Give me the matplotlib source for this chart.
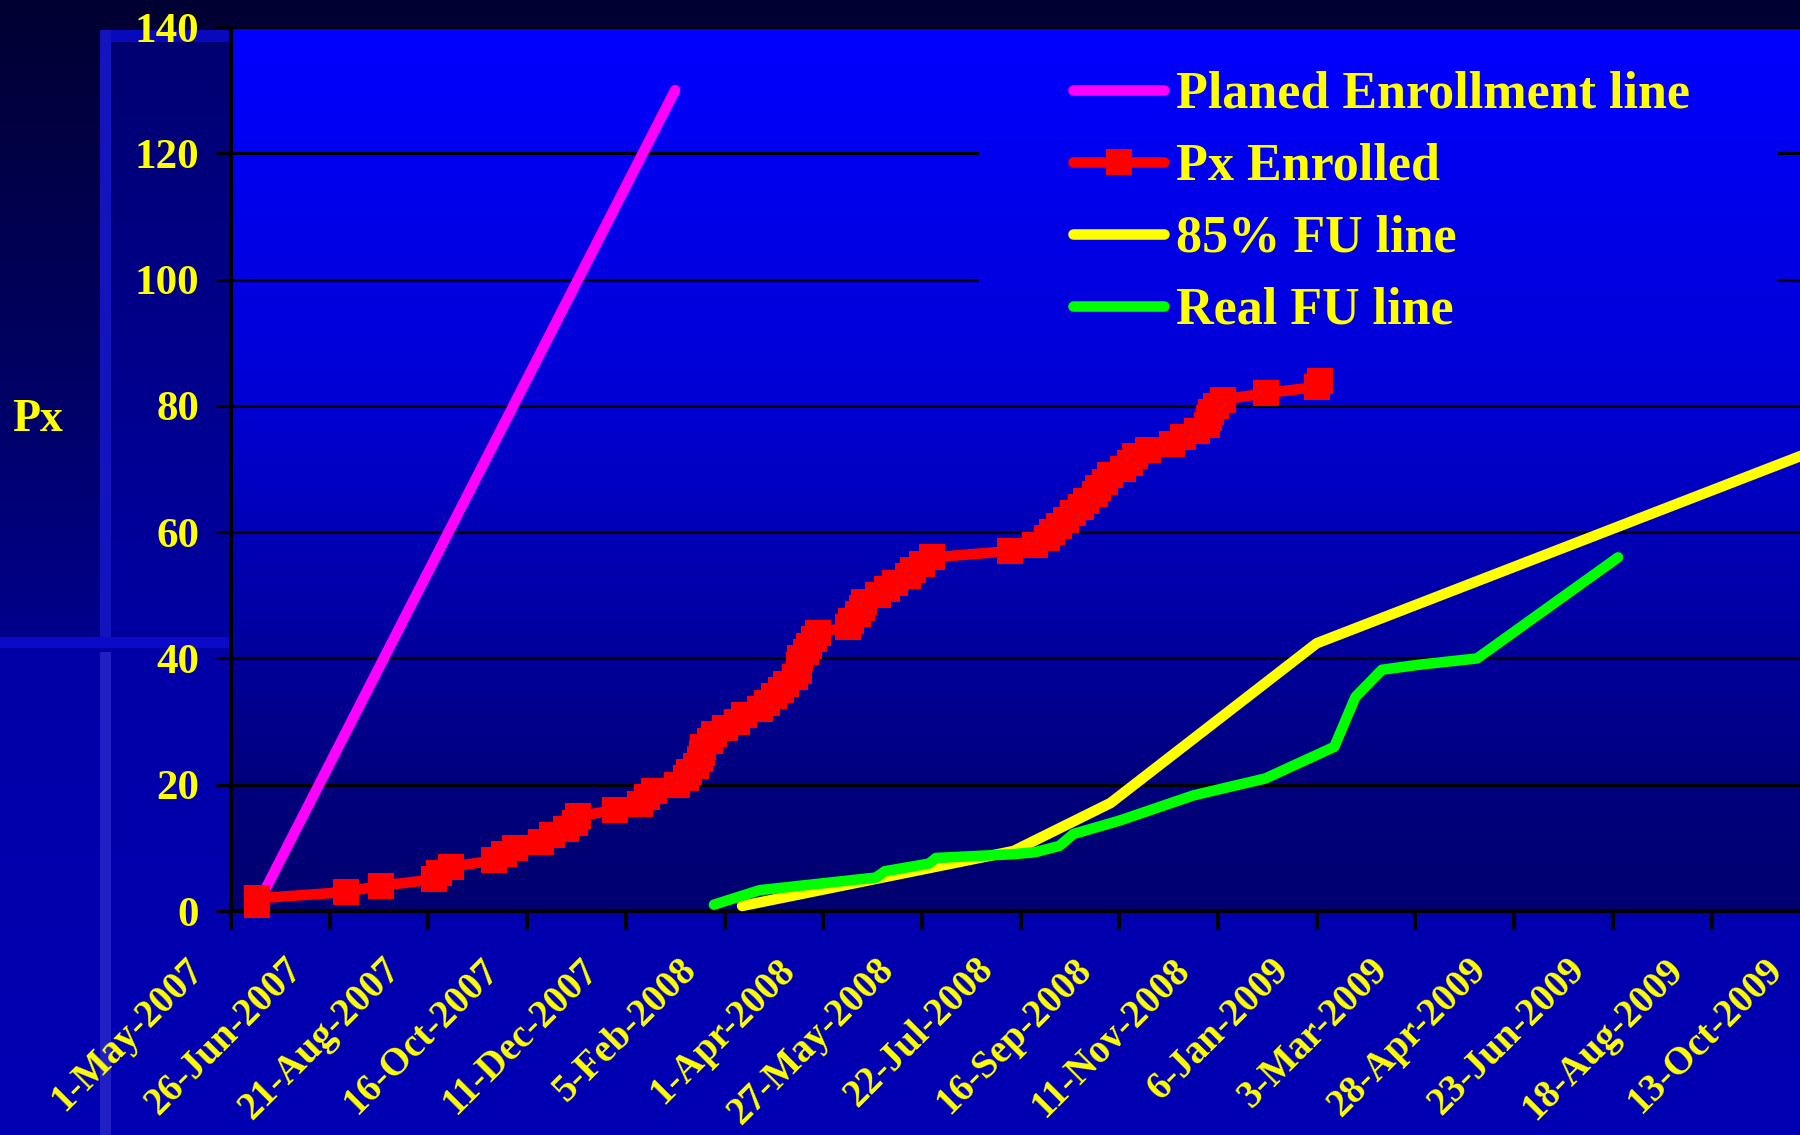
import numpy as np
import pandas as pd
import matplotlib
matplotlib.use("Agg")
import matplotlib.pyplot as plt
from matplotlib.colors import LinearSegmentedColormap
from matplotlib.patches import Rectangle
from matplotlib.transforms import ScaledTranslation

# ---------------- data ----------------
plan_dates = ["2007-05-16", "2008-01-08"]
plan_values = [1, 130]

enrolled_dates = [
    "2007-05-16", "2007-05-16", "2007-07-05", "2007-07-25", "2007-08-24",
    "2007-08-27", "2007-09-03", "2007-09-27", "2007-10-03", "2007-10-09",
    "2007-10-24", "2007-10-30", "2007-11-07", "2007-11-12", "2007-11-14",
    "2007-12-05", "2007-12-19", "2007-12-23", "2007-12-27", "2008-01-09",
    "2008-01-14", "2008-01-16", "2008-01-20", "2008-01-22", "2008-01-23",
    "2008-01-24", "2008-01-28", "2008-01-30", "2008-02-05", "2008-02-12",
    "2008-02-16", "2008-02-25", "2008-02-29", "2008-03-04", "2008-03-08",
    "2008-03-11", "2008-03-16", "2008-03-18", "2008-03-18", "2008-03-19",
    "2008-03-22", "2008-03-24", "2008-03-27", "2008-03-29", "2008-04-15",
    "2008-04-17", "2008-04-21", "2008-04-23", "2008-04-24", "2008-05-02",
    "2008-05-07", "2008-05-12", "2008-05-19", "2008-05-22", "2008-05-27",
    "2008-06-02", "2008-07-16", "2008-07-30", "2008-08-06", "2008-08-09",
    "2008-08-13", "2008-08-17", "2008-08-21", "2008-08-25", "2008-08-28",
    "2008-09-02", "2008-09-04", "2008-09-08", "2008-09-11", "2008-09-18",
    "2008-09-22", "2008-09-25", "2008-10-02", "2008-10-16", "2008-10-22",
    "2008-10-30", "2008-11-05", "2008-11-06", "2008-11-07", "2008-11-10",
    "2008-11-14", "2008-12-08", "2009-01-06", "2009-01-08",
]
enrolled_values = [
    1, 2, 3, 4, 5, 6, 7, 8, 9, 10,
    11, 12, 13, 14, 15, 16, 17, 18, 19, 20,
    21, 22, 23, 24, 25, 26, 27, 28, 29, 30,
    31, 32, 33, 34, 35, 36, 37, 38, 39, 40,
    41, 42, 43, 44, 45, 46, 47, 48, 49, 50,
    51, 52, 53, 54, 55, 56, 57, 58, 59, 60,
    61, 62, 63, 64, 65, 66, 67, 68, 69, 70,
    71, 72, 73, 74, 75, 76, 77, 78, 79, 80,
    81, 82, 83, 84,
]

fu85_dates = ["2008-02-15", "2008-07-18", "2008-09-11", "2009-01-06", "2009-10-20"]
fu85_values = [0.8, 9.5, 17.1, 42.4, 73.4]

real_fu_dates = [
    "2008-01-30", "2008-02-25", "2008-05-01", "2008-05-06", "2008-05-31",
    "2008-06-04", "2008-07-18", "2008-07-30", "2008-08-13", "2008-08-21",
    "2008-09-16", "2008-10-28", "2008-12-08", "2009-01-16", "2009-01-28",
    "2009-02-12", "2009-03-05", "2009-04-07", "2009-06-26",
]
real_fu_values = [1, 3.3, 5.3, 6.3, 7.5, 8.4, 9.0, 9.3, 10.3, 12.2,
                  14.3, 18.3, 21, 26, 33.9, 38.2, 39, 40, 56]

x_tick_labels = [
    "1-May-2007", "26-Jun-2007", "21-Aug-2007", "16-Oct-2007", "11-Dec-2007",
    "5-Feb-2008", "1-Apr-2008", "27-May-2008", "22-Jul-2008", "16-Sep-2008",
    "11-Nov-2008", "6-Jan-2009", "3-Mar-2009", "28-Apr-2009", "23-Jun-2009",
    "18-Aug-2009", "13-Oct-2009",
]
y_ticks = [0, 20, 40, 60, 80, 100, 120, 140]

series_labels = ["Planed Enrollment line", "Px Enrolled", "85% FU line", "Real FU line"]

# ---------------- style ----------------
plt.rcParams["font.family"] = ["Liberation Serif", "DejaVu Serif"]
plt.rcParams["font.weight"] = "bold"
YELLOW = "#FFFF00"

W, H = 1800, 1135
fig = plt.figure(figsize=(W / 100, H / 100), dpi=100)


def fx(px):
    return px / W


def fy(py):
    return 1 - py / H


# ---------------- slide background ----------------
bg = fig.add_axes([0, 0, 1, 1], zorder=-10)
bg.set_xlim(0, W)
bg.set_ylim(H, 0)
bg.axis("off")
grad = np.linspace(0, 1, 256)[:, None]
upper_cmap = LinearSegmentedColormap.from_list("upper", ["#000032", "#00005C", "#00008C"])
lower_cmap = LinearSegmentedColormap.from_list("lower", ["#0000A6", "#0000B4"])
col_cmap = LinearSegmentedColormap.from_list("col", ["#000070", "#00008A", "#0000A2"])
bg.imshow(grad, extent=(0, W, 642, 0), cmap=upper_cmap, aspect="auto")
bg.imshow(grad, extent=(0, W, H, 642), cmap=lower_cmap, aspect="auto")
bg.imshow(grad, extent=(110, 232, 642, 32), cmap=col_cmap, aspect="auto")
bg.add_patch(Rectangle((100, 30), 132, 12, color="#0808BC", lw=0))
bg.add_patch(Rectangle((100, 30), 11, 612, color="#1414BE", lw=0))
bg.add_patch(Rectangle((100, 652), 11, H - 652, color="#2020C4", lw=0))
bg.add_patch(Rectangle((0, 637), 232, 11, color="#0A0AC8", lw=0))
bg.set_xlim(0, W)
bg.set_ylim(H, 0)

# ---------------- plot area ----------------
x0 = pd.Timestamp("2007-05-01")
x1 = pd.Timestamp("2009-10-27")
px_per_day = 98.7 / 56
left_px, top_px, bottom_px = 231, 27, 911
width_px = (x1 - x0).days * px_per_day
ax = fig.add_axes([fx(left_px), fy(bottom_px), fx(width_px), (bottom_px - top_px) / H])
ax.set_facecolor("none")

plot_cmap = LinearSegmentedColormap.from_list(
    "plot", [(0.0, "#0000FF"), (0.42, "#0000D4"), (0.65, "#0000A8"),
             (0.86, "#00007C"), (1.0, "#000070")])
ax.imshow(grad, extent=(0, 1, 0, 1), transform=ax.transAxes, cmap=plot_cmap,
          aspect="auto", zorder=0)
# gradient patch behind the legend so the grid stops there
cover = ax.imshow(grad, extent=(0, 1, 0, 1), transform=ax.transAxes, cmap=plot_cmap,
                  aspect="auto", zorder=0.8)
cover_rect = Rectangle((fx(979), fy(392)), fx(798), 352 / H, transform=fig.transFigure)
cover.set_clip_path(cover_rect)

lw = 7.6
ax.plot(pd.to_datetime(plan_dates), plan_values, color="#FF00FF", lw=lw,
        solid_capstyle="round", zorder=3, clip_on=False, label=series_labels[0])
ax.plot(pd.to_datetime(enrolled_dates), enrolled_values, color="#FF0000", lw=lw,
        marker="s", markersize=18.5, markeredgewidth=0, solid_capstyle="round",
        zorder=4, clip_on=False, label=series_labels[1])
ax.plot(pd.to_datetime(fu85_dates), fu85_values, color="#FFFF00", lw=lw,
        solid_capstyle="round", zorder=5, clip_on=False, label=series_labels[2])
ax.plot(pd.to_datetime(real_fu_dates), real_fu_values, color="#00FF00", lw=lw,
        solid_capstyle="round", zorder=6, clip_on=False, label=series_labels[3])

ax.set_xlim(x0, x1)
ax.set_ylim(0, 140)

ax.set_yticks(y_ticks)
ax.set_yticklabels([str(v) for v in y_ticks])
tick_dates = pd.to_datetime(x_tick_labels, format="%d-%b-%Y")
ax.set_xticks(tick_dates)
ax.set_xticklabels(x_tick_labels)

ax.set_axisbelow(True)
ax.yaxis.grid(True, color="black", linewidth=2.2)
ax.xaxis.grid(False)
for side in ("top", "right"):
    ax.spines[side].set_visible(False)
for side in ("left", "bottom"):
    ax.spines[side].set_linewidth(2.9)
    ax.spines[side].set_color("black")

ax.tick_params(axis="y", direction="out", length=11, width=2.2, color="black",
               pad=12, labelsize=31, labelcolor=YELLOW)
ax.tick_params(axis="x", direction="out", length=14, width=2.9, color="black",
               pad=15, labelsize=28, labelcolor=YELLOW)
shift = ScaledTranslation(-20 / 100, 0, fig.dpi_scale_trans)
for lbl in ax.get_xticklabels():
    lbl.set_rotation(45)
    lbl.set_ha("right")
    lbl.set_transform(lbl.get_transform() + shift)

leg = ax.legend(loc="upper left", bbox_to_anchor=(fx(1073), fy(71)),
                bbox_transform=fig.transFigure, frameon=False, fontsize=37.5,
                labelcolor=YELLOW, handlelength=1.75, handletextpad=0.22,
                labelspacing=0.46, borderpad=0, borderaxespad=0, numpoints=1)
leg.set_zorder(10)

fig.text(fx(38), fy(420), "Px", ha="center", va="center", fontsize=33,
         color=YELLOW, fontweight="bold")

fig.savefig("out.png", dpi=100, facecolor="#000040")
